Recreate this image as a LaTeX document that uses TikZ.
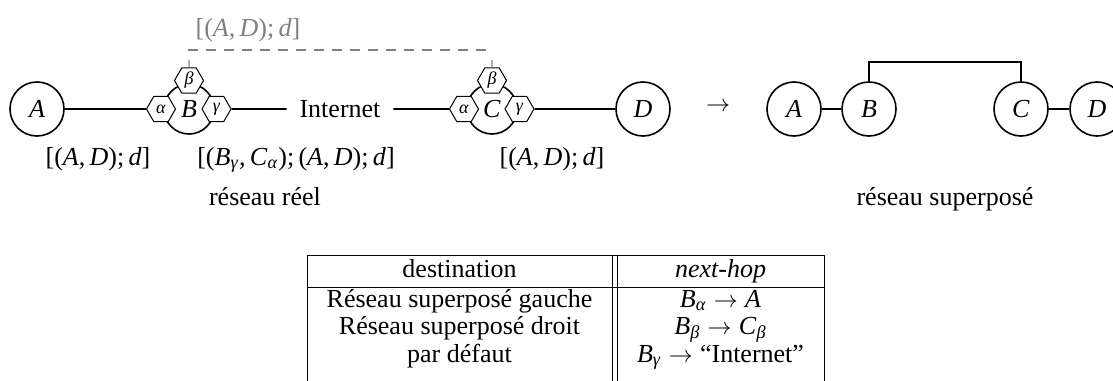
\documentclass[tikz,border=0pt]{standalone}
\usepackage{fontspec}
\setmainfont{Liberation Serif}
\usetikzlibrary{shapes.geometric}
\newcommand{\mi}[1]{\textit{#1}}
\newcommand{\sbs}[1]{\textsubscript{\textit{#1}}}
\newcommand{\toarr}{\hspace{0.28em}$\rightarrow$\hspace{0.28em}}
\begin{document}
\begin{tikzpicture}[x=0.5pt,y=-0.5pt,
  every node/.style={font=\fontsize{13}{15}\selectfont},
  big/.style={circle,draw,line width=0.8pt,minimum size=27pt,inner sep=0pt},
  router/.style={circle,draw,line width=0.8pt,minimum size=25pt,inner sep=0pt},
  hex/.style={regular polygon,regular polygon sides=6,draw,fill=white,line width=0.5pt,
    minimum size=14.5pt,inner sep=0pt,font=\fontsize{9}{10}\selectfont},
  link/.style={line width=0.8pt},
  lbl/.style={anchor=base,inner sep=0pt},
  ghost/.style={draw=black!50,line width=0.6pt},
  tline/.style={line width=0.5pt}]
\useasboundingbox (0,0) rectangle (1113,380);
% real network
\node[big] (A) at (37,109) {\mi{A}};
\node[router] (B) at (189,109) {\mi{B}};
\node[hex] (Ba) at (161,109) {\mi{α}};
\node[hex] (Bb) at (189,80.5) {\mi{β}};
\node[hex] (Bg) at (216.5,109) {\mi{γ}};
\node[inner xsep=6.25pt,inner ysep=0pt] (inet) at (340,109) {Internet};
\node[router] (C) at (492,109) {\mi{C}};
\node[hex] (Ca) at (464,109) {\mi{α}};
\node[hex] (Cb) at (492,80.5) {\mi{β}};
\node[hex] (Cg) at (519.5,109) {\mi{γ}};
\node[big] (D) at (643,109) {\mi{D}};
\draw[link] (A) -- (Ba);
\draw[link] (Bg) -- (inet);
\draw[link] (inet) -- (Ca);
\draw[link] (Cg) -- (D);
% overlay tunnel
\coordinate (Bs) at (189,60);
\coordinate (Cs) at (492,60);
\coordinate (dL) at (188,50);
\coordinate (dR) at (492,50);
\draw[ghost] (Bb) -- (Bs);
\draw[ghost] (Cb) -- (Cs);
\draw[ghost,dash pattern=on 5pt off 4pt] (dL) -- (dR);
\node[lbl,text=black!50] (tun) at (248,36) {[(\mi{A},\,\mi{D});\,\mi{d}]};
% labels
\node[lbl] (l1) at (98,165) {[(\mi{A},\,\mi{D});\,\mi{d}]};
\node[lbl] (l2) at (296,165) {[(\mi{B}\sbs{γ},\,\mi{C}\sbs{α});\,(\mi{A},\,\mi{D});\,\mi{d}]};
\node[lbl] (l3) at (552,165) {[(\mi{A},\,\mi{D});\,\mi{d}]};
\node[lbl] (rr) at (265,205) {réseau réel};
\node (arr) at (718,107) {$\rightarrow$};
% overlay network
\node[big] (A2) at (794,109) {\mi{A}};
\node[big] (B2) at (869,109) {\mi{B}};
\node[big] (C2) at (1021,109) {\mi{C}};
\node[big] (D2) at (1097,109) {\mi{D}};
\draw[link] (A2) -- (B2);
\draw[link] (C2) -- (D2);
\draw[link] (B2.north) -- ++(0,-19) -| (C2.north);
\node[lbl] (rs) at (945,205) {réseau superposé};
% table
\draw[tline] (307,255) -- (824,255);
\draw[tline] (307,287) -- (824,287);
\draw[tline] (307,255) -- (307,400);
\draw[tline] (612,255) -- (612,400);
\draw[tline] (617,255) -- (617,400);
\draw[tline] (824,255) -- (824,400);
\node[lbl] (h1) at (459.5,277) {destination};
\node[lbl] (h2) at (720.5,277) {\textit{next-hop}};
\node[lbl] (r1a) at (459.5,307) {Réseau superposé gauche};
\node[lbl] (r1b) at (720.5,307) {\mi{B}\sbs{α}\toarr\mi{A}};
\node[lbl] (r2a) at (459.5,334) {Réseau superposé droit};
\node[lbl] (r2b) at (720.5,334) {\mi{B}\sbs{β}\toarr\mi{C}\sbs{β}};
\node[lbl] (r3a) at (459.5,362) {par défaut};
\node[lbl] (r3b) at (720.5,362) {\mi{B}\sbs{γ}\toarr“Internet”};
\end{tikzpicture}
\end{document}
